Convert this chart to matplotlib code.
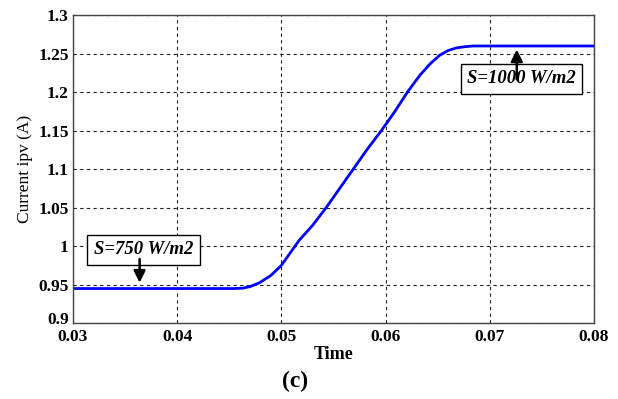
import matplotlib.pyplot as plt
import matplotlib.transforms as mtransforms

# values
time = [0.030, 0.040, 0.0455, 0.0463, 0.0470, 0.0479, 0.0490, 0.0500, 0.0517,
        0.0530, 0.0543, 0.0556, 0.0569, 0.0582, 0.0596, 0.0609, 0.0621, 0.0633,
        0.0643, 0.0652, 0.0660, 0.0668, 0.0676, 0.0684, 0.070, 0.080]
ipv = [0.945, 0.945, 0.945, 0.9455, 0.9475, 0.9525, 0.962, 0.975, 1.0074,
       1.027, 1.050, 1.075, 1.100, 1.125, 1.150, 1.175, 1.200, 1.222,
       1.237, 1.248, 1.254, 1.2575, 1.259, 1.260, 1.260, 1.260]

xticks = [0.03, 0.04, 0.05, 0.06, 0.07, 0.08]
yticks = [0.9, 0.95, 1.0, 1.05, 1.1, 1.15, 1.2, 1.25, 1.3]
ytick_labels = ['0.9', '0.95', '1', '1.05', '1.1', '1.15', '1.2', '1.25', '1.3']

label_750 = 'S=750 W/m2'
label_1000 = 'S=1000 W/m2'

plt.rcParams['font.family'] = ['Liberation Serif', 'DejaVu Serif']

fig = plt.figure(figsize=(6.18, 3.99), dpi=100)
ax = fig.add_axes([0.118, 0.19, 0.843, 0.772])

ax.plot(time, ipv, color='#0000ff', linewidth=2)

ax.set_xlim(0.03, 0.08)
ax.set_ylim(0.9, 1.3)
ax.set_xticks(xticks)
ax.set_xticklabels([str(t) for t in xticks])
ax.set_yticks(yticks)
ax.set_yticklabels(ytick_labels)
ax.grid(True, color='#222222', linestyle=(0, (3, 3)), linewidth=0.8)
ax.tick_params(axis='x', length=0, labelsize=12.5, pad=4)
ax.tick_params(axis='y', length=0, labelsize=12.5, pad=3)
for lab in ax.get_xticklabels() + ax.get_yticklabels():
    lab.set_fontweight('bold')
# lift the bottom y label a little so it sits above 0.03, as in the reference
lab09 = ax.get_yticklabels()[0]
lab09.set_transform(lab09.get_transform() +
                    mtransforms.ScaledTranslation(0, 4 / 72, fig.dpi_scale_trans))
for s in ax.spines.values():
    s.set_color('#444444')
    s.set_linewidth(1)

ax.set_xlabel('Time', fontsize=13, fontweight='bold', labelpad=1)
ax.set_ylabel('Current ipv (A)', fontsize=12.5, labelpad=4)
fig.text(0.478, 0.03, '(c)', fontsize=17, fontweight='bold', ha='center')

box = dict(boxstyle='square,pad=0.35', facecolor='white', edgecolor='black', linewidth=1)
ax.text(0.03676, 0.9951, label_750, fontsize=13.5, fontweight='bold', style='italic',
        ha='center', va='center', bbox=box, zorder=3)
ax.annotate('', xy=(0.0364, 0.949), xytext=(0.0364, 0.987),
            arrowprops=dict(arrowstyle='-|>,head_width=0.35,head_length=0.7',
                            color='black', linewidth=1.8), zorder=4)

ax.text(0.07305, 1.2173, label_1000, fontsize=13.5, fontweight='bold', style='italic',
        ha='center', va='center', bbox=box, zorder=3)
ax.annotate('', xy=(0.0726, 1.259), xytext=(0.0726, 1.213),
            arrowprops=dict(arrowstyle='-|>,head_width=0.35,head_length=0.7',
                            color='black', linewidth=1.8), zorder=4)

fig.savefig('out.png', dpi=100)
